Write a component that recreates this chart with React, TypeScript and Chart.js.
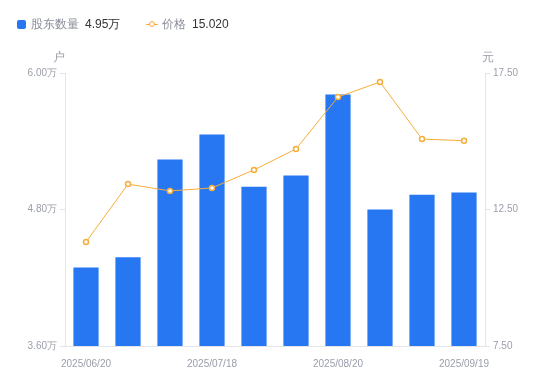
import React, { useEffect, useRef } from "react";
import { Chart, registerables } from "chart.js";

Chart.register(...registerables);

const categories = [
  "2025/06/20", "2025/06/30", "2025/07/10", "2025/07/18", "2025/07/31",
  "2025/08/10", "2025/08/20", "2025/08/31", "2025/09/10", "2025/09/19",
];
const holders = [4.29, 4.38, 5.24, 5.46, 5.0, 5.1, 5.81, 4.8, 4.93, 4.95];
const prices = [11.31, 13.43, 13.18, 13.29, 13.95, 14.72, 16.62, 17.17, 15.08, 15.02];
const leftTicks = [3.6, 4.8, 6.0];
const rightTicks = [7.5, 12.5, 17.5];

const BLUE = "#2777f3";
const ORANGE = "#f7ad3a";
const GRAY = "#9a9eaa";
const AXIS = "#e3e5ea";
const FONT = "'Liberation Sans', Arial, sans-serif";

export default function App() {
  const ref = useRef<HTMLCanvasElement>(null);

  useEffect(() => {
    document.body.style.margin = "0";
    const ctx = ref.current!;
    const chart = new Chart(ctx, {
      data: {
        labels: categories,
        datasets: [
          {
            type: "line",
            label: "价格",
            data: prices,
            yAxisID: "y1",
            borderColor: ORANGE,
            borderWidth: 1,
            pointRadius: 2.5,
            pointBorderWidth: 1.5,
            pointBackgroundColor: "#ffffff",
            pointBorderColor: ORANGE,
            tension: 0,
            order: 0,
          },
          {
            type: "bar",
            label: "股东数量",
            data: holders,
            yAxisID: "y",
            backgroundColor: BLUE,
            barPercentage: 0.6,
            categoryPercentage: 1,
            order: 1,
          },
        ],
      },
      options: {
        animation: false,
        responsive: false,
        maintainAspectRatio: false,
        layout: { padding: { top: 73, left: 0, right: 0, bottom: 0 } },
        plugins: { legend: { display: false }, tooltip: { enabled: false } },
        scales: {
          x: {
            type: "category",
            offset: true,
            grid: { display: false },
            border: { display: true, color: AXIS },
            ticks: {
              autoSkip: false,
              maxRotation: 0,
              color: GRAY,
              font: { size: 10, family: FONT },
              padding: 4,
              callback: (_v: any, i: number) => (i % 3 === 0 ? categories[i] : ""),
            },
            afterFit: (s: any) => { s.height = 35; },
          },
          y: {
            type: "linear",
            position: "left",
            min: leftTicks[0],
            max: leftTicks[leftTicks.length - 1],
            afterBuildTicks: (s: any) => { s.ticks = leftTicks.map((v) => ({ value: v })); },
            grid: { display: true, drawOnChartArea: false, drawTicks: true, tickLength: 5, color: AXIS },
            border: { display: true, color: AXIS },
            ticks: {
              color: GRAY,
              font: { size: 10, family: FONT },
              padding: 3,
              callback: (v: any) => Number(v).toFixed(2) + "万",
            },
            afterFit: (s: any) => { s.width = 65; },
          },
          y1: {
            type: "linear",
            position: "right",
            min: rightTicks[0],
            max: rightTicks[rightTicks.length - 1],
            afterBuildTicks: (s: any) => { s.ticks = rightTicks.map((v) => ({ value: v })); },
            grid: { display: true, drawOnChartArea: false, drawTicks: true, tickLength: 5, color: AXIS },
            border: { display: true, color: AXIS },
            ticks: {
              color: GRAY,
              font: { size: 10, family: FONT },
              padding: 3,
              callback: (v: any) => Number(v).toFixed(2),
            },
            afterFit: (s: any) => { s.width = 65; },
          },
        },
      },
    } as any);
    return () => chart.destroy();
  }, []);

  const txt: React.CSSProperties = {
    position: "absolute",
    fontFamily: FONT,
    fontSize: 12,
    lineHeight: "14px",
    whiteSpace: "nowrap",
  };

  return (
    <div style={{ position: "relative", width: 550, height: 381 }}>
      <canvas ref={ref} width={550} height={381} style={{ display: "block" }} />
      <div style={{ position: "absolute", left: 17, top: 20, width: 9, height: 9, background: BLUE, borderRadius: 2 }} />
      <span style={{ ...txt, left: 31, top: 17, color: "#8a8e99" }}>股东数量</span>
      <span style={{ ...txt, left: 85, top: 17, color: "#333" }}>4.95万</span>
      <div style={{ position: "absolute", left: 146, top: 24, width: 12, height: 1, background: ORANGE }} />
      <div style={{ position: "absolute", left: 149, top: 21, width: 4, height: 4, borderRadius: "50%", border: `1.5px solid ${ORANGE}`, background: "#fff" }} />
      <span style={{ ...txt, left: 162, top: 17, color: "#8a8e99" }}>价格</span>
      <span style={{ ...txt, left: 192, top: 17, color: "#333" }}>15.020</span>
      <span style={{ ...txt, left: 53, top: 50, color: GRAY }}>户</span>
      <span style={{ ...txt, left: 482, top: 50, color: GRAY }}>元</span>
    </div>
  );
}
